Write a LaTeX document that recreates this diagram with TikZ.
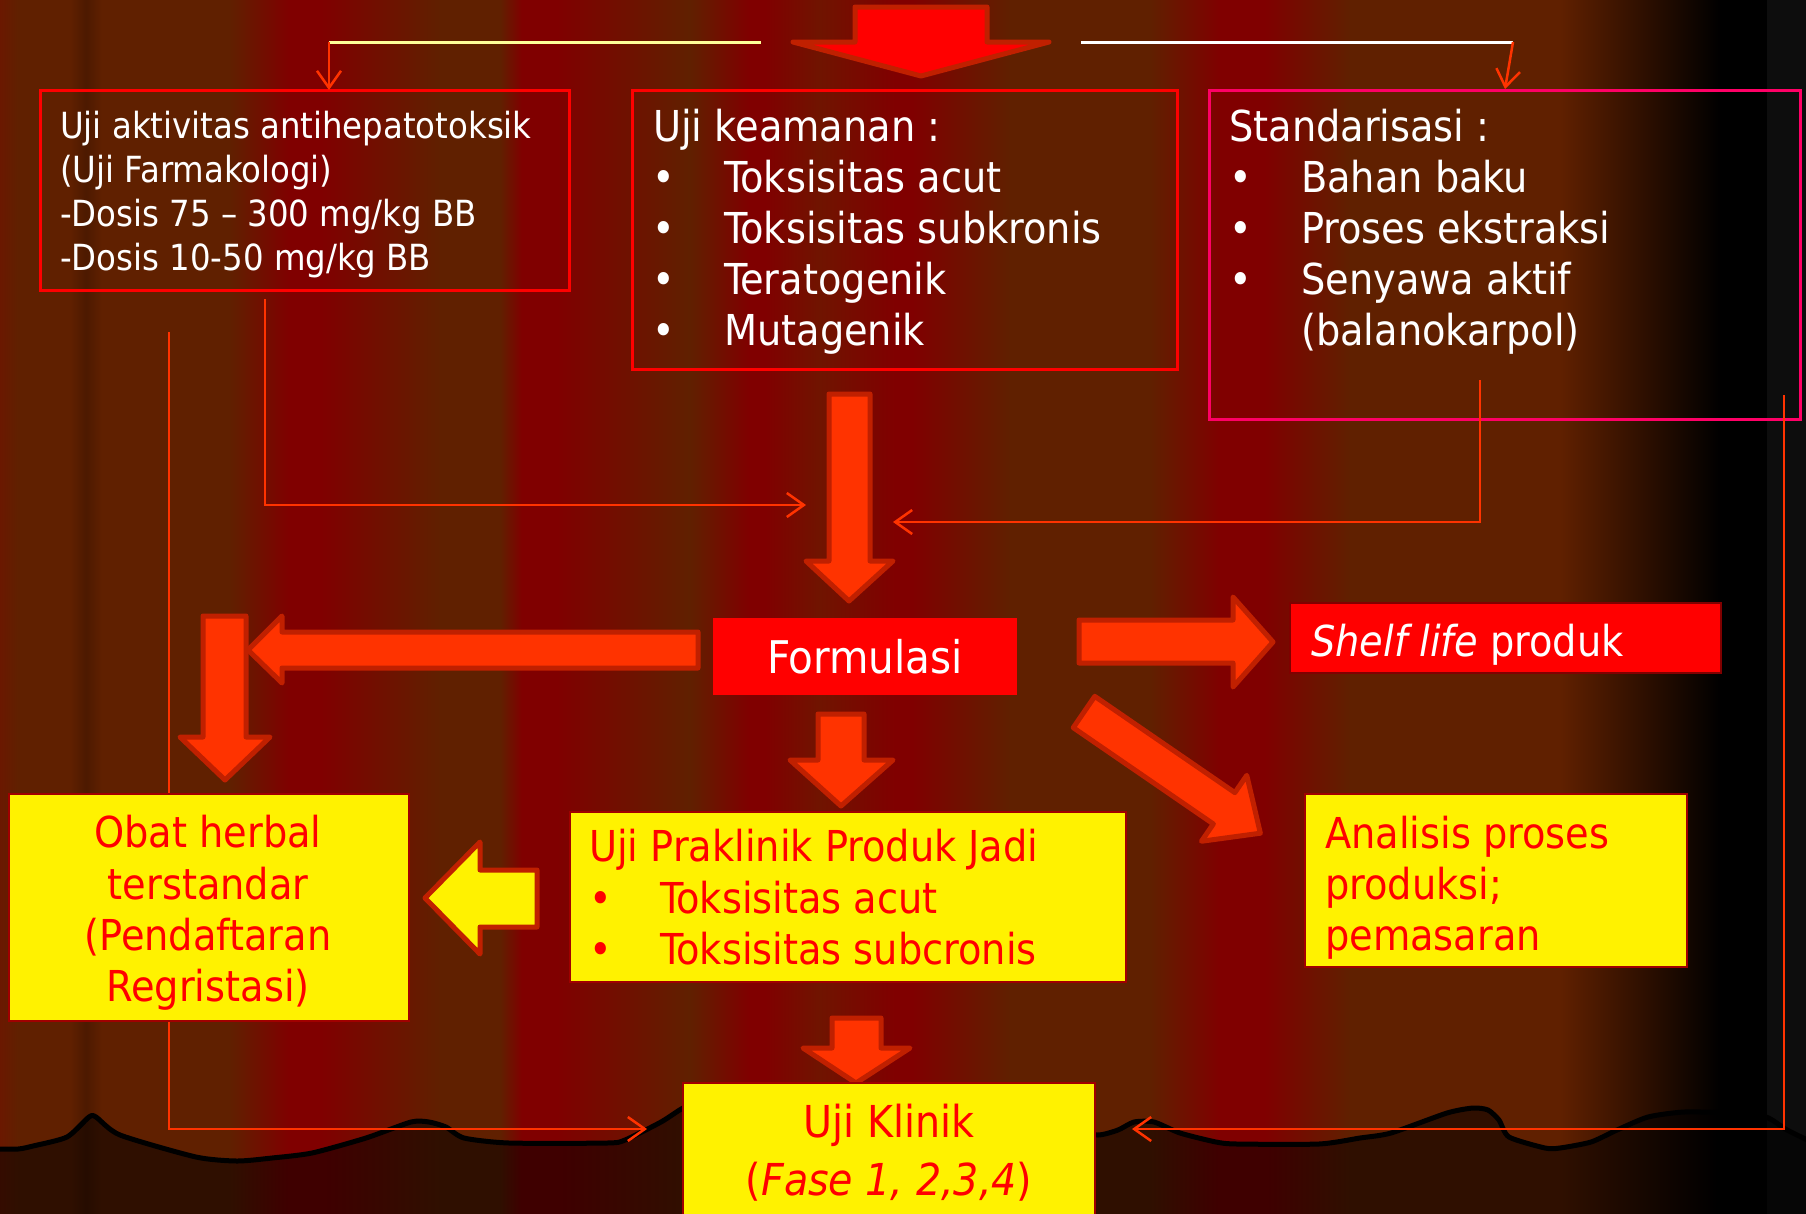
\documentclass[tikz,border=0pt]{standalone}
\usepackage{fontspec}
\setmainfont{DejaVu Sans Condensed}
\usetikzlibrary{arrows.meta}

\definecolor{bgbrown}{HTML}{602000}
\definecolor{bgred}{HTML}{800000}
\definecolor{bgmid}{HTML}{701400}
\definecolor{wire}{HTML}{FF3300}
\definecolor{rim}{HTML}{C02000}
\definecolor{blockfill}{HTML}{FF3300}
\definecolor{pinkrim}{HTML}{FF0066}
\definecolor{paleyellow}{HTML}{FFFF99}
\definecolor{panelrim}{HTML}{A00000}

\newcommand\szA{\fontsize{36pt}{44pt}\selectfont}
\newcommand\szB{\fontsize{42.6pt}{51pt}\selectfont}
\newcommand\szC{\fontsize{45pt}{54pt}\selectfont}
\newcommand\szD{\fontsize{44pt}{54pt}\selectfont}

% one dark red fold of the curtain: fade in, solid core, fade out
\newcommand\curtainfold[4]{%
  \shade[left color=bgbrown,right color=bgred] (#1,-10) rectangle (#2,1225);
  \fill[bgred] (#2,-10) rectangle (#3,1225);
  \shade[left color=bgred,right color=bgbrown] (#3,-10) rectangle (#4,1225);}

\begin{document}
\begin{tikzpicture}[x=1pt,y=-1pt,
  wire/.style={draw=wire,line width=2.5pt},
  barb/.style={-{Straight Barb[length=17pt,width=24pt]}},
  blockarrow/.style={fill=blockfill,draw=rim,line width=5pt,line join=round},
  outlinebox/.style={draw=#1,line width=3pt,inner sep=0pt,outer sep=0pt},
  panel/.style={fill=yellow,draw=panelrim,line width=2pt,inner sep=0pt,outer sep=0pt},
  lbl/.style={inner sep=0pt,anchor=base west,text=white},
  rlbl/.style={inner sep=0pt,anchor=base west,text=red},
  clbl/.style={inner sep=0pt,anchor=base,text=red},
]
\useasboundingbox (0,0) rectangle (1806,1213);

% ---- curtain background ----
\fill[bgbrown] (-10,-10) rectangle (1816,1225);
\shade[left color=bgmid,right color=bgbrown] (-10,-10) rectangle (18,1225);
\shade[left color=bgbrown,right color=black!20!bgbrown] (70,-10) rectangle (86,1225);
\shade[left color=black!20!bgbrown,right color=bgbrown] (86,-10) rectangle (102,1225);
\curtainfold{230}{290}{321}{440}
\curtainfold{500}{522}{556}{690}
\shade[left color=bgbrown,right color=bgred] (690,-10) rectangle (749,1225);
\fill[bgred] (749,-10) rectangle (765,1225);
\shade[left color=bgred,right color=bgmid] (765,-10) rectangle (820,1225);
\shade[left color=bgmid,right color=bgred] (820,-10) rectangle (895,1225);
\fill[bgred] (895,-10) rectangle (912,1225);
\shade[left color=bgred,right color=bgbrown] (912,-10) rectangle (1010,1225);
\curtainfold{1150}{1221}{1264}{1350}
\shade[left color=bgbrown,right color=black] (1560,-10) rectangle (1720,1225);
\fill[black] (1720,-10) rectangle (1767,1225);
\fill[black!95!white] (1767,-10) rectangle (1816,1225);

% ---- hem of the curtain ----
\fill[black,fill opacity=0.5] plot[smooth,tension=0.4] coordinates {
  (-10,1149) (18,1149) (33,1146) (67,1137) (89,1117) (96,1117) (120,1135)
  (196,1157) (237,1161) (272,1158) (312,1153) (366,1138) (411,1122)
  (429,1122) (446,1127) (464,1138) (509,1143) (607,1143) (625,1140)
  (661,1122) (683,1108) (710,1096) (890,1096) (1070,1130) (1098,1135)
  (1118,1130) (1134,1122) (1154,1122)
  (1180,1133) (1216,1142) (1237,1144) (1319,1144) (1360,1138) (1391,1133)
  (1447,1113) (1473,1108) (1488,1110) (1499,1120) (1509,1137) (1545,1148)
  (1560,1148) (1591,1142) (1617,1130) (1648,1117) (1684,1112) (1730,1113)
  (1766,1117) (1787,1130) (1816,1144)}
  -- (1816,1225) -- (-10,1225) -- cycle;
\draw[black,line width=5pt,line join=round] plot[smooth,tension=0.4] coordinates {
  (-10,1149) (18,1149) (33,1146) (67,1137) (89,1117) (96,1117) (120,1135)
  (196,1157) (237,1161) (272,1158) (312,1153) (366,1138) (411,1122)
  (429,1122) (446,1127) (464,1138) (509,1143) (607,1143) (625,1140)
  (661,1122) (683,1108) (710,1096) (890,1096) (1070,1130) (1098,1135)
  (1118,1130) (1134,1122) (1154,1122)
  (1180,1133) (1216,1142) (1237,1144) (1319,1144) (1360,1138) (1391,1133)
  (1447,1113) (1473,1108) (1488,1110) (1499,1120) (1509,1137) (1545,1148)
  (1560,1148) (1591,1142) (1617,1130) (1648,1117) (1684,1112) (1730,1113)
  (1766,1117) (1787,1130) (1816,1144)};

% ---- top row of boxes ----
\node[outlinebox=red,minimum width=529pt,minimum height=200pt] (farm) at (304.5,190) {};
\node[outlinebox=red,minimum width=545pt,minimum height=279pt] (aman) at (904.5,229.5) {};
\node[outlinebox=pinkrim,minimum width=591pt,minimum height=329pt] (std) at (1504.5,254.5) {};

% ---- central boxes ----
\node[fill=red,inner sep=0pt,minimum width=304pt,minimum height=77pt,text=white,font=\szC]
  (form) at (865,656.5) {Formulasi};
\node[fill=red,draw=bgred,line width=2pt,inner sep=0pt,minimum width=431pt,minimum height=70pt]
  (shelf) at (1505.5,638) {};

% ---- feed lines from the top ----
\coordinate (topL) at (329,42);
\coordinate (topR) at (1513,42);
\draw[paleyellow,line width=3pt] (topL) -- (761,42);
\draw[white,line width=3pt] (1081,42) -- (topR);
\draw[wire,barb] (topL) -- (topL |- farm.north);
\draw[wire,barb] (topR) -- (1505,89);

% top block arrow
\draw[fill=red,draw=rim,line width=5pt,line join=round]
  (855,7) -- (987,7) -- (987,42) -- (1049,42) -- (921,76) -- (793,42) -- (855,42) -- cycle;

% ---- thin connectors ----
\coordinate (farmOut) at (265,299);
\coordinate (stdOut) at (1480,380);
\coordinate (farmFar) at (169,332);
\coordinate (stdFar) at (1784,395);
\coordinate (joinL) at (806,505);
\coordinate (joinR) at (893,522);
\coordinate (klinL) at (647,1129);
\coordinate (klinR) at (1132,1129);
\draw[wire,barb] (farmOut) |- (joinL);
\draw[wire,barb] (stdOut) |- (joinR);
\draw[wire,barb] (farmFar) |- (klinL);
\draw[wire,barb] (stdFar) |- (klinR);

% ---- block arrows ----
\draw[blockarrow] (829,394) -- (870,394) -- (870,561) -- (893,561) -- (849,601)
  -- (806,561) -- (829,561) -- cycle;
\draw[blockarrow] (698,632) -- (282,632) -- (282,616) -- (248,650) -- (282,683)
  -- (282,668) -- (698,668) -- cycle;
\draw[blockarrow] (203,616) -- (246,616) -- (246,737) -- (270,737) -- (225,780)
  -- (180,737) -- (203,737) -- cycle;
\draw[blockarrow] (1079,620) -- (1233,620) -- (1233,597) -- (1273,642) -- (1233,687)
  -- (1233,663) -- (1079,663) -- cycle;
\begin{scope}[shift={(1084,712)},rotate=-34.5]
  \draw[blockarrow] (0,-19) -- (170,-19) -- (170,-40) -- (214,0) -- (170,40)
    -- (170,19) -- (0,19) -- cycle;
\end{scope}
\draw[blockarrow] (818,714) -- (864,714) -- (864,760) -- (893,760) -- (841,806)
  -- (790,760) -- (818,760) -- cycle;
\draw[blockarrow] (832,1018) -- (881,1018) -- (881,1048) -- (910,1048) -- (856,1083)
  -- (803,1048) -- (832,1048) -- cycle;
\draw[blockarrow,fill=yellow] (537,870) -- (480,870) -- (480,842) -- (425,898)
  -- (480,954) -- (480,927) -- (537,927) -- cycle;

% ---- yellow panels ----
\node[panel,minimum width=400pt,minimum height=227pt] (obat) at (209,907.5) {};
\node[panel,minimum width=556pt,minimum height=170pt] (prak) at (848,897) {};
\node[panel,minimum width=382pt,minimum height=173pt] (anal) at (1496,880.5) {};
\node[panel,minimum width=412pt,minimum height=150pt] (klin) at (889,1158) {};

% ---- texts: pharmacology box ----
\node[lbl,font=\szA] (farm1) at (60,138) {Uji aktivitas antihepatotoksik};
\node[lbl,font=\szA] (farm2) at (60,182) {(Uji Farmakologi)};
\node[lbl,font=\szA] (farm3) at (60,226) {-Dosis 75 – 300 mg/kg BB};
\node[lbl,font=\szA] (farm4) at (60,270) {-Dosis 10-50 mg/kg BB};

% ---- texts: safety box ----
\node[lbl,font=\szB] (aman0) at (653,141) {Uji keamanan :};
\node[lbl,font=\szB] (amanb1) at (652,192) {•};
\node[lbl,font=\szB] (amanb2) at (652,243) {•};
\node[lbl,font=\szB] (amanb3) at (652,294) {•};
\node[lbl,font=\szB] (amanb4) at (652,345) {•};
\node[lbl,font=\szB] (aman1) at (724,192) {Toksisitas acut};
\node[lbl,font=\szB] (aman2) at (724,243) {Toksisitas subkronis};
\node[lbl,font=\szB] (aman3) at (724,294) {Teratogenik};
\node[lbl,font=\szB] (aman4) at (724,345) {Mutagenik};

% ---- texts: standardisation box ----
\node[lbl,font=\szB] (std0) at (1229,141) {Standarisasi :};
\node[lbl,font=\szB] (stdb1) at (1229,192) {•};
\node[lbl,font=\szB] (stdb2) at (1229,243) {•};
\node[lbl,font=\szB] (stdb3) at (1229,294) {•};
\node[lbl,font=\szB] (std1) at (1301,192) {Bahan baku};
\node[lbl,font=\szB] (std2) at (1301,243) {Proses ekstraksi};
\node[lbl,font=\szB] (std3) at (1301,294) {Senyawa aktif};
\node[lbl,font=\szB] (std4) at (1301,345) {(balanokarpol)};

% ---- shelf life ----
\node[lbl,font=\szB] (shelfT) at (1311,656) {\textit{Shelf life} produk};

% ---- texts: yellow panels ----
\node[clbl,font=\szB] (obat1) at (208,847) {Obat herbal};
\node[clbl,font=\szB] (obat2) at (208,899) {terstandar};
\node[clbl,font=\szB] (obat3) at (208,950) {(Pendaftaran};
\node[clbl,font=\szB] (obat4) at (208,1001) {Regristasi)};

\node[rlbl,font=\szB] (prak0) at (589,861) {Uji Praklinik Produk Jadi};
\node[rlbl,font=\szB] (prakb1) at (589,913) {•};
\node[rlbl,font=\szB] (prakb2) at (589,964) {•};
\node[rlbl,font=\szB] (prak1) at (660,913) {Toksisitas acut};
\node[rlbl,font=\szB] (prak2) at (660,964) {Toksisitas subcronis};

\node[rlbl,font=\szB] (anal1) at (1325,848) {Analisis proses};
\node[rlbl,font=\szB] (anal2) at (1325,899) {produksi;};
\node[rlbl,font=\szB] (anal3) at (1325,950) {pemasaran};

\node[clbl,font=\szD] (klin1) at (889,1137) {Uji Klinik};
\node[clbl,font=\szD] (klin2) at (889,1195) {(\textit{Fase 1, 2,3,4})};
\end{tikzpicture}
\end{document}
